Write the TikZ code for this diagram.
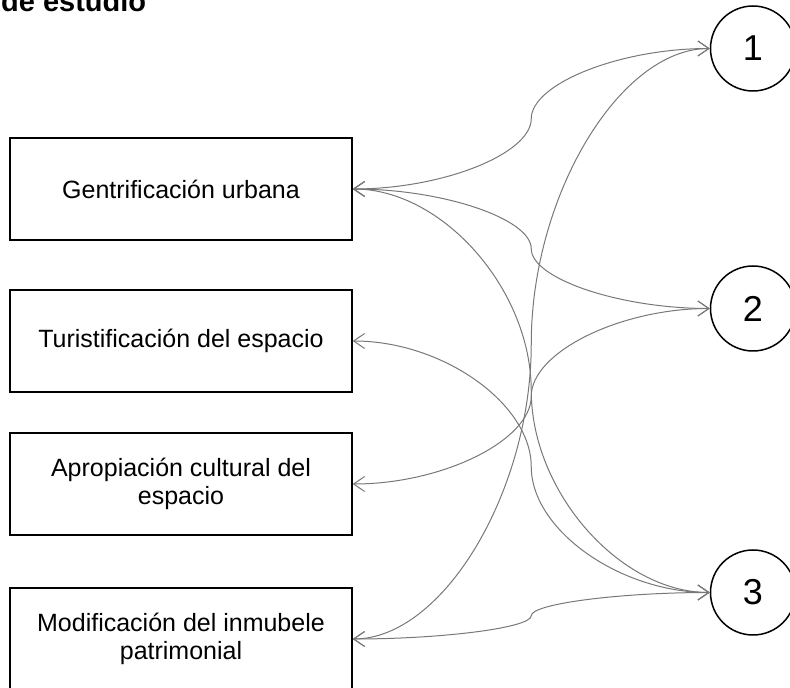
\documentclass[tikz,border=0pt]{standalone}
\usepackage{fontspec}
\setmainfont{Liberation Sans}
\usepackage{tikz}
\usetikzlibrary{calc, arrows.meta}

\begin{document}
\begin{tikzpicture}[x=1pt, y=1pt,
    box/.style={draw, line width=1.5pt, minimum width=342pt, minimum height=102pt,
      inner sep=0pt, align=center, font=\fontsize{25}{28}\selectfont},
    num/.style={draw, circle, line width=1.5pt, minimum size=85pt, inner sep=0pt,
      font=\fontsize{36}{40}\selectfont},
    link/.style={draw={rgb,255:red,120;green,120;blue,120}, line width=1pt,
      {Straight Barb[length=11pt,width=15pt]}-{Straight Barb[length=11pt,width=15pt]}}]
  \useasboundingbox (0,0) rectangle (790,688);
  \node[anchor=base west, inner sep=0pt, font=\fontsize{29}{32}\selectfont\bfseries] (titulo) at (1,676) {de estudio};
  \node[box] (gen) at (181,499) {Gentrificación urbana};
  \node[box] (tur) at (181,347) {Turistificación del espacio};
  \node[box] (apr) at (181,204) {Apropiación cultural del\\espacio};
  \node[box] (mod) at (181,49) {Modificación del inmubele\\patrimonial};
  \node[num] (uno) at (753,639.5) {1};
  \node[num] (dos) at (753,379.5) {2};
  \node[num] (tres) at (753,95.5) {3};
  \coordinate (m-gen-uno) at ($(gen.east)!.5!(uno.west)$);
  \coordinate (m-gen-dos) at ($(gen.east)!.5!(dos.west)$);
  \coordinate (m-gen-tres) at ($(gen.east)!.5!(tres.west)$);
  \coordinate (m-tur-tres) at ($(tur.east)!.5!(tres.west)$);
  \coordinate (m-apr-dos) at ($(apr.east)!.5!(dos.west)$);
  \coordinate (m-mod-uno) at ($(mod.east)!.5!(uno.west)$);
  \coordinate (m-mod-tres) at ($(mod.east)!.5!(tres.west)$);
  \draw[link] (gen.east) .. controls +(90,0) and +(0,-35) .. (m-gen-uno)
    .. controls +(0,35) and +(-90,0) .. (uno.west);
  \draw[link] (gen.east) .. controls +(90,0) and +(0,30) .. (m-gen-dos)
    .. controls +(0,-30) and +(-90,0) .. (dos.west);
  \draw[link] (gen.east) .. controls +(90,0) and +(0,101) .. (m-gen-tres)
    .. controls +(0,-101) and +(-90,0) .. (tres.west);
  \draw[link] (tur.east) .. controls +(90,0) and +(0,63) .. (m-tur-tres)
    .. controls +(0,-63) and +(-90,0) .. (tres.west);
  \draw[link] (apr.east) .. controls +(90,0) and +(0,-44) .. (m-apr-dos)
    .. controls +(0,44) and +(-90,0) .. (dos.west);
  \draw[link] (mod.east) .. controls +(90,0) and +(0,-148) .. (m-mod-uno)
    .. controls +(0,148) and +(-90,0) .. (uno.west);
  \draw[link] (mod.east) .. controls +(90,0) and +(0,-12) .. (m-mod-tres)
    .. controls +(0,12) and +(-90,0) .. (tres.west);
\end{tikzpicture}
\end{document}
